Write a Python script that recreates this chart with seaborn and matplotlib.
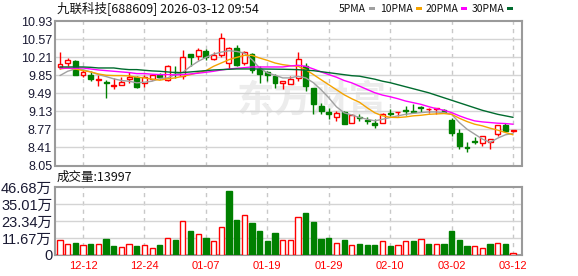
import numpy as np
import pandas as pd
import matplotlib
matplotlib.use("Agg")
import matplotlib.pyplot as plt
from matplotlib.patches import Rectangle
import seaborn as sns

# ---------------- data ----------------
dates = ["12-09", "12-10", "12-11", "12-12", "12-15", "12-16", "12-17", "12-18", "12-19", "12-22",
         "12-23", "12-24", "12-25", "12-26", "12-29", "12-30", "12-31",
         "01-05", "01-06", "01-07", "01-08", "01-09", "01-12", "01-13", "01-14", "01-15", "01-16",
         "01-19", "01-20", "01-21", "01-22", "01-23", "01-26", "01-27", "01-28", "01-29", "01-30",
         "02-02", "02-03", "02-04", "02-05", "02-06", "02-09", "02-10", "02-11", "02-12", "02-13",
         "02-24", "02-25", "02-26", "02-27",
         "03-02", "03-03", "03-04", "03-05", "03-06", "03-09", "03-10", "03-11", "03-12"]

opens = [10.007, 10.093, 10.139, 9.849, 9.849, 9.76, 9.724, 9.638, 9.651, 9.77,
         9.816, 9.697, 9.777, 9.856, 9.757, 9.92, 9.843, 10.278, 10.231, 10.337,
         10.179, 10.245, 10.087, 10.39, 10.10, 10.27, 9.974, 9.908, 9.829, 9.70,
         9.678, 9.796, 10.027, 9.585, 9.229, 9.117, 9.025, 9.124, 8.906, 9.025,
         8.952, 8.906, 8.906, 9.097, 9.11, 9.163, 9.137, 9.216, 9.175, 9.18,
         9.15, 8.966, 8.695, 8.418, 8.537, 8.497, 8.51, 8.676, 8.853, 8.73]
highs = [10.31, 10.19, 10.15, 9.95, 9.93, 9.862, 9.763, 9.796, 9.816, 9.915,
         9.842, 9.849, 9.882, 9.889, 10.06, 10.027, 10.357, 10.28, 10.39, 10.363,
         10.31, 10.70, 10.42, 10.456, 10.337, 10.291, 10.027, 9.941, 9.875, 9.73,
         9.829, 10.304, 10.093, 9.598, 9.302, 9.203, 9.137, 9.137, 9.071, 9.071,
         9.018, 8.97, 9.104, 9.17, 9.124, 9.229, 9.269, 9.236, 9.20, 9.19,
         9.183, 9.005, 8.775, 8.524, 8.61, 8.643, 8.57, 8.853, 8.906, 8.76]
lows = [9.98, 10.027, 9.85, 9.82, 9.73, 9.63, 9.40, 9.565, 9.651, 9.70,
        9.585, 9.61, 9.757, 9.777, 9.73, 9.796, 9.783, 10.027, 10.159, 10.159,
        10.159, 10.21, 9.98, 10.027, 10.06, 9.895, 9.697, 9.73, 9.585, 9.565,
        9.678, 9.73, 9.532, 9.07, 9.084, 8.97, 8.939, 8.873, 8.906, 8.939,
        8.887, 8.807, 8.906, 9.038, 9.038, 9.058, 9.104, 9.124, 9.091, 9.084,
        9.091, 8.643, 8.379, 8.326, 8.478, 8.445, 8.379, 8.643, 8.728, 8.72]
closes = [10.073, 10.152, 9.862, 9.915, 9.77, 9.78, 9.70, 9.651, 9.711, 9.823,
          9.612, 9.823, 9.856, 9.823, 10.034, 9.91, 10.218, 10.205, 10.357, 10.205,
          10.245, 10.587, 10.39, 10.06, 10.31, 9.961, 9.875, 9.862, 9.697, 9.73,
          9.776, 10.179, 9.631, 9.282, 9.137, 9.07, 9.104, 8.887, 9.051, 8.999,
          8.932, 8.86, 9.084, 9.078, 9.124, 9.13, 9.117, 9.19, 9.185, 9.19,
          9.124, 8.689, 8.445, 8.392, 8.517, 8.63, 8.57, 8.853, 8.741, 8.76]
prev_close_first = 10.0

volumes_wan = [10.3, 7.3, 8.2, 6.9, 7.6, 7.6, 11.0, 6.4, 5.5, 7.3,
               6.4, 6.9, 5.0, 6.9, 11.7, 10.3, 23.3, 16.5, 14.4, 11.9,
               9.4, 19.2, 43.9, 24.0, 27.5, 22.0, 16.5, 9.6, 15.1, 10.1,
               10.1, 25.9, 28.6, 22.4, 11.0, 11.4, 8.0, 10.1, 6.6, 7.3,
               6.9, 6.9, 9.4, 6.2, 6.6, 9.4, 9.6, 10.8, 7.3, 7.3,
               7.3, 16.5, 10.3, 6.2, 5.9, 4.6, 7.3, 8.2, 7.3, 1.4]

ma5 = [9.843, 9.928, 9.974, 9.961, 9.915, 9.862, 9.823, 9.777, 9.744, 9.73,
       9.697, 9.71, 9.73, 9.783, 9.796, 9.862, 9.908, 10.027, 10.126, 10.205,
       10.27, 10.31, 10.337, 10.324, 10.29, 10.159, 9.994, 9.895, 9.85, 9.796,
       9.796, 9.83, 9.796, 9.70, 9.56, 9.40, 9.22, 9.10, 9.058, 9.006,
       8.972, 8.94, 8.972, 9.006, 9.04, 9.07, 9.09, 9.104, 9.117, 9.117,
       9.104, 9.07, 8.906, 8.774, 8.675, 8.577, 8.51, 8.596, 8.662, 8.689]
ma10 = [9.974, 9.994, 9.974, 9.941, 9.915, 9.875, 9.849, 9.842, 9.842, 9.836,
        9.81, 9.796, 9.77, 9.75, 9.777, 9.796, 9.829, 9.862, 9.90, 9.941,
        10.027, 10.093, 10.159, 10.205, 10.245, 10.245, 10.192, 10.146, 10.093, 10.06,
        10.04, 10.027, 9.961, 9.862, 9.76, 9.66, 9.56, 9.46, 9.38, 9.31,
        9.20, 9.10, 9.04, 9.01, 9.006, 9.018, 9.04, 9.051, 9.07, 9.078,
        9.085, 9.07, 8.992, 8.926, 8.873, 8.84, 8.794, 8.755, 8.708, 8.662]
ma20 = [9.99, 9.99, 9.99, 9.994, 9.974, 9.954, 9.941, 9.928, 9.915, 9.902,
        9.882, 9.882, 9.869, 9.862, 9.862, 9.856, 9.862, 9.875, 9.889, 9.908,
        9.928, 9.954, 9.974, 9.987, 10.0, 10.014, 10.014, 10.014, 10.014, 10.014,
        10.034, 10.047, 10.027, 9.974, 9.915, 9.862, 9.81, 9.744, 9.697, 9.631,
        9.565, 9.50, 9.453, 9.42, 9.381, 9.335, 9.302, 9.269, 9.223, 9.183,
        9.15, 9.104, 9.04, 8.985, 8.939, 8.919, 8.906, 8.893, 8.886, 8.873]
ma30 = [10.014, 10.014, 10.014, 10.014, 10.007, 9.994, 9.994, 9.994, 9.974, 9.961,
        9.961, 9.948, 9.935, 9.928, 9.915, 9.902, 9.902, 9.915, 9.928, 9.941,
        9.954, 9.961, 9.968, 9.974, 9.974, 9.974, 9.974, 9.972, 9.97, 9.968,
        9.965, 9.96, 9.95, 9.94, 9.92, 9.90, 9.88, 9.86, 9.84, 9.83,
        9.80, 9.77, 9.73, 9.70, 9.66, 9.62, 9.58, 9.54, 9.50, 9.45,
        9.40, 9.35, 9.30, 9.25, 9.20, 9.15, 9.11, 9.07, 9.04, 9.01]

price_ticks = [8.05, 8.41, 8.77, 9.13, 9.49, 9.85, 10.21, 10.57, 10.93]
vol_ticks = [0, 11.67, 23.34, 35.01, 46.68]
vol_tick_labels = ["0", "11.67万", "23.34万", "35.01万", "46.68万"]
date_ticks = ["12-12", "12-24", "01-07", "01-19", "01-29", "02-10", "03-02", "03-12"]

title_text = "九联科技[688609] 2026-03-12 09:54"
vol_title = "成交量:13997"
ma_names = ["5PMA", "10PMA", "20PMA", "30PMA"]

# ---------------- style ----------------
sns.set_theme(style="white")
plt.rcParams["font.family"] = ["Liberation Sans", "Noto Sans CJK SC", "DejaVu Sans"]

RED = "#ff0000"
GREEN = "#008000"
MA_COLORS = ["#a0a0a0", "#f5a300", "#ff00ff", "#006b2e"]
FRAME = "#9a9a9a"
GRID = "#d4d4d4"
LABEL = "#1a1a33"

W, H = 578, 276
fig = plt.figure(figsize=(W / 100, H / 100), dpi=100)
fig.patch.set_facecolor("white")


def frame(x0, y0, x1, y1):
    return [x0 / W, 1 - y1 / H, (x1 - x0) / W, (y1 - y0) / H]


axp = fig.add_axes(frame(55, 21, 522.3, 165.5))
axv = fig.add_axes(frame(55, 187, 522.3, 255))

n = len(dates)
pos = np.arange(n)
xlim = (-0.65, 60.2)

df = pd.DataFrame({"pos": pos, "date": dates, "open": opens, "high": highs,
                   "low": lows, "close": closes, "vol": volumes_wan,
                   "ma5": ma5, "ma10": ma10, "ma20": ma20, "ma30": ma30})

date_pos = [dates.index(d) for d in date_ticks]

for ax in (axp, axv):
    ax.set_facecolor("white")
    ax.set_xlim(*xlim)
    for s in ax.spines.values():
        s.set_color(FRAME)
        s.set_linewidth(1.5)
    for p in date_pos:
        ax.axvline(p, color="#c8c8c8", lw=1, ls=(0, (3, 3)), zorder=0)
    ax.tick_params(length=0)

# watermark
axp.text(0.55, 0.45, "东方财富", transform=axp.transAxes, ha="center", va="center",
         fontsize=27, fontweight="bold", color="#ececec", zorder=0,
         family=["Noto Sans CJK SC"])

# price panel
axp.set_ylim(price_ticks[0], price_ticks[-1])
axp.set_yticks(price_ticks)
axp.set_yticklabels([f"{t:.2f}" for t in price_ticks], fontsize=9, color=LABEL)
axp.tick_params(axis="y", pad=2)
axp.set_xticks([])
for t in price_ticks[1:-1]:
    axp.axhline(t, color=GRID, lw=1, zorder=0)

bw = 0.64
for _, r in df.iterrows():
    up = r["close"] >= r["open"]
    c = RED if up else GREEN
    axp.vlines(r["pos"], r["low"], r["high"], color=c, lw=1, zorder=3)
    lo = min(r["open"], r["close"])
    h = max(abs(r["close"] - r["open"]), 0.006)
    axp.add_patch(Rectangle((r["pos"] - bw / 2, lo), bw, h,
                            facecolor="white" if up else GREEN, edgecolor=c,
                            lw=1, zorder=4))

for name, col in zip(["ma5", "ma10", "ma20", "ma30"], MA_COLORS):
    sns.lineplot(data=df, x="pos", y=name, ax=axp, color=col, lw=1,
                 legend=False, zorder=5)
axp.set_xlabel("")
axp.set_ylabel("")
axp.set_xlim(*xlim)

# volume panel
axv.set_ylim(0, vol_ticks[-1])
axv.set_yticks(vol_ticks)
axv.set_yticklabels(vol_tick_labels, fontsize=10.5, color=LABEL)
axv.tick_params(axis="y", pad=2)
for t in vol_ticks[1:-1]:
    axv.axhline(t, color=GRID, lw=1, zorder=0)

prev = [prev_close_first] + closes[:-1]
vw = 0.68
for i in range(n):
    up = closes[i] >= prev[i]
    axv.bar(pos[i], volumes_wan[i], width=vw,
            facecolor="white" if up else GREEN,
            edgecolor=RED if up else GREEN, lw=1, zorder=3)

axv.set_xticks(date_pos)
axv.set_xticklabels(date_ticks, fontsize=8, color=RED)
axv.tick_params(axis="x", pad=4)
axv.set_xlim(*xlim)

# texts
cjk = ["Noto Sans CJK SC", "DejaVu Sans"]
fig.text(57 / W, 1 - 8.5 / H, title_text, fontsize=9, ha="left", va="center",
         color="#111111", family=cjk)
fig.text(57 / W, 1 - 177 / H, vol_title, fontsize=9, ha="left", va="center",
         color="#111111", family=cjk)

legend_left = [339, 380, 425.5, 471.5]
fig.canvas.draw()
renderer = fig.canvas.get_renderer()
for x0, name, col in zip(legend_left, ma_names, MA_COLORS):
    t = fig.text(x0 / W, 1 - 8.5 / H, name, fontsize=7.5, ha="left", va="center",
                 color="#111111", family=cjk)
    bb = t.get_window_extent(renderer)
    sx = bb.x1 + 3
    fig.patches.append(Rectangle((sx / W, 1 - 10 / H), 6 / W, 3 / H,
                                 transform=fig.transFigure, facecolor=col,
                                 edgecolor="none"))

fig.savefig("out.png", dpi=100)
